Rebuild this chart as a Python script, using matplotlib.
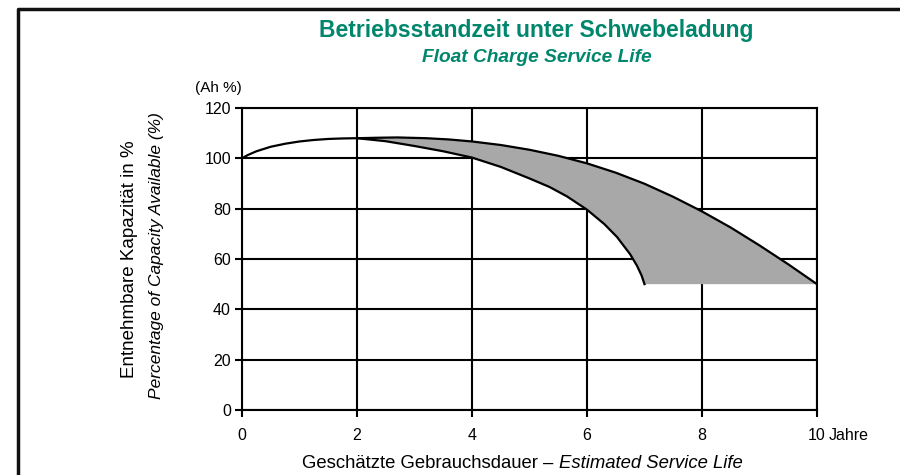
import matplotlib
matplotlib.use("Agg")
import matplotlib.pyplot as plt
from matplotlib.lines import Line2D

plt.rcParams['font.family'] = ['Liberation Sans', 'DejaVu Sans']

# Data
x_ticks = [0, 2, 4, 6, 8, 10]
x_tick_labels = ["0", "2", "4", "6", "8", "10"]
y_ticks = [0, 20, 40, 60, 80, 100, 120]

common_x = [0, 0.1, 0.25, 0.5, 0.75, 1.0, 1.25, 1.5, 1.75, 2.0]
common_y = [100, 101.3, 102.8, 104.6, 105.8, 106.7, 107.3, 107.7, 107.9, 108.0]

lower_x = [2.0, 2.5, 3.0, 3.5, 4.0, 4.5, 5.0, 5.35, 5.65, 6.0, 6.3, 6.52, 6.75, 6.87, 6.95, 7.0]
lower_y = [108.0, 106.8, 104.9, 102.8, 100.3, 96.6, 92.0, 88.6, 84.9, 79.6, 73.9, 68.8, 61.9, 57.3, 53.4, 50.0]

upper_x = [2.0, 2.4, 2.7, 3.2, 3.6, 4.0, 4.5, 5.0, 5.5, 6.0, 6.5, 7.0, 7.5, 8.0, 8.5, 9.0, 9.5, 10.0]
upper_y = [108.0, 108.2, 108.3, 108.0, 107.5, 106.7, 105.3, 103.4, 101.0, 98.0, 94.3, 89.9, 84.7, 78.9, 72.5, 65.4, 57.9, 50.0]

title_de = "Betriebsstandzeit unter Schwebeladung"
title_en = "Float Charge Service Life"
green = "#00866C"

fig = plt.figure(figsize=(9, 4.75), dpi=100)
W, H = 900, 475
ax = fig.add_axes([242 / W, 1 - 410 / H, (817 - 242) / W, (410 - 108) / H])

# Fill band between curves
poly_x = list(lower_x) + list(reversed(upper_x))
poly_y = list(lower_y) + list(reversed(upper_y))
ax.fill(poly_x, poly_y, color="#a8a8a8", lw=0, zorder=2)

ax.plot(common_x, common_y, color="black", lw=1.6, zorder=3)
ax.plot(lower_x, lower_y, color="black", lw=1.6, zorder=3)
ax.plot(upper_x, upper_y, color="black", lw=1.6, zorder=3)

ax.set_xlim(0, 10)
ax.set_ylim(0, 120)
ax.set_xticks(x_ticks)
ax.set_xticklabels(x_tick_labels)
ax.set_yticks(y_ticks)
ax.grid(True, color="black", lw=1.5, zorder=1)
ax.set_axisbelow(True)
for s in ax.spines.values():
    s.set_linewidth(1.5)
    s.set_color("black")
ax.tick_params(axis='both', direction='out', length=5, width=1.5, labelsize=11.5, colors='black')
ax.tick_params(axis='x', pad=8)
ax.tick_params(axis='y', pad=3)

ax.annotate("Jahre", xy=(10, 0), xycoords=('data', 'axes fraction'),
            xytext=(8.5, -13), textcoords='offset points', ha='left', va='top', fontsize=11.5)

# Titles
fig.text(536 / W, 1 - 30 / H, title_de, color=green, fontsize=16.5, fontweight='bold', ha='center', va='center')
fig.text(537 / W, 1 - 57 / H, title_en, color=green, fontsize=13.8, fontweight='bold', style='italic', ha='center', va='center')

fig.text(218 / W, 1 - 88 / H, "(Ah %)", fontsize=11, ha='center', va='center')

fig.text(130 / W, 1 - 259 / H, "Entnehmbare Kapazität in %", fontsize=13.5, rotation=90, ha='center', va='center')
fig.text(157 / W, 1 - 256 / H, "Percentage of Capacity Available (%)", fontsize=12.5, rotation=90, style='italic', ha='center', va='center')

fig.text(559 / W, 1 - 463 / H, "Geschätzte Gebrauchsdauer – ", fontsize=13.3, ha='right', va='center')
fig.text(559 / W, 1 - 463 / H, "Estimated Service Life", fontsize=13.3, style='italic', ha='left', va='center')

# Frame border
fig.add_artist(Line2D([17.5 / W, 17.5 / W, 1.01], [-0.01, 1 - 8.5 / H, 1 - 8.5 / H],
                      transform=fig.transFigure, color="#111111", lw=2.5))

fig.savefig("out.png", dpi=100)
